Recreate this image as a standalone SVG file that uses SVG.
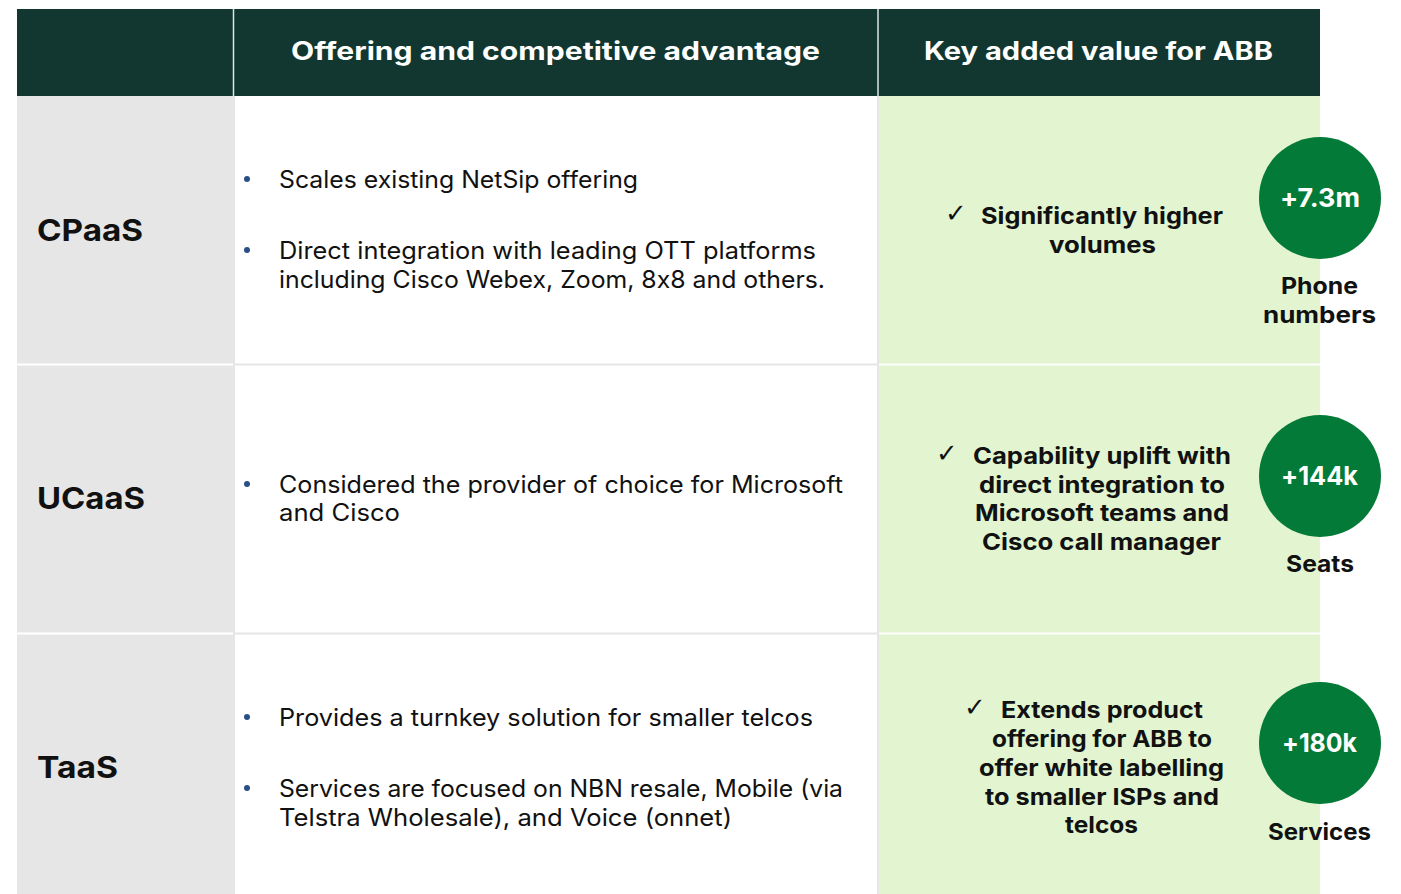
<svg xmlns="http://www.w3.org/2000/svg" width="1401" height="894" viewBox="0 0 1401 894">
<style>
text{font-feature-settings:"calt" 0;}
.hd{font-family:Inter,"Liberation Sans",sans-serif;font-weight:700;font-size:25px;fill:#ffffff;text-anchor:middle}
.rl{font-family:Inter,"Liberation Sans",sans-serif;font-weight:700;font-size:30px;fill:#111111}
.bt{font-family:Inter,"Liberation Sans",sans-serif;font-size:24px;fill:#111111}
.dot{fill:#2a4f85}
.kv{font-family:Inter,"Liberation Sans",sans-serif;font-weight:700;font-size:23px;fill:#111111;text-anchor:middle}
.ck{font-family:"DejaVu Sans",sans-serif;font-size:26px;fill:#111111}
.cn{font-family:Inter,"Liberation Sans",sans-serif;font-weight:700;font-size:26px;fill:#ffffff;text-anchor:middle}
.cl{font-family:Inter,"Liberation Sans",sans-serif;font-weight:700;font-size:23px;fill:#111111;text-anchor:middle}
.circ{fill:#037a37}
</style>
<rect width="1401" height="894" fill="#ffffff"/>
<g id="table">
<rect x="17" y="9" width="1303" height="87" fill="#113730"/>
<rect x="17" y="96" width="216" height="798" fill="#e6e6e6"/>
<rect x="879" y="96" width="441" height="798" fill="#e2f5d0"/>
<line x1="233.5" y1="9" x2="233.5" y2="96" stroke="#dfe6e3" stroke-width="1.5"/>
<line x1="878" y1="9" x2="878" y2="96" stroke="#dfe6e3" stroke-width="1.5"/>
<line x1="234" y1="96" x2="234" y2="894" stroke="#e6e6e6" stroke-width="2"/>
<line x1="878" y1="96" x2="878" y2="894" stroke="#e6e6e6" stroke-width="2"/>
<line x1="17" y1="364.5" x2="233" y2="364.5" stroke="#ffffff" stroke-width="2"/>
<line x1="235" y1="364.5" x2="877" y2="364.5" stroke="#e6e6e6" stroke-width="2"/>
<line x1="879" y1="364.5" x2="1320" y2="364.5" stroke="#ffffff" stroke-width="2"/>
<line x1="17" y1="633.5" x2="233" y2="633.5" stroke="#ffffff" stroke-width="2"/>
<line x1="235" y1="633.5" x2="877" y2="633.5" stroke="#e6e6e6" stroke-width="2"/>
<line x1="879" y1="633.5" x2="1320" y2="633.5" stroke="#ffffff" stroke-width="2"/>
</g>
<g id="header">
<text class="hd" x="555.5" y="60" textLength="529" lengthAdjust="spacingAndGlyphs">Offering and competitive advantage</text>
<text class="hd" x="1098.5" y="60" textLength="349" lengthAdjust="spacingAndGlyphs">Key added value for ABB</text>
</g>
<g id="row-cpaas">
<text class="rl" x="37" y="241" textLength="106" lengthAdjust="spacingAndGlyphs">CPaaS</text>
<circle class="dot" cx="247" cy="179" r="3"/>
<text class="bt" x="279" y="188" textLength="359" lengthAdjust="spacingAndGlyphs">Scales existing NetSip offering</text>
<circle class="dot" cx="247" cy="250" r="3"/>
<text class="bt" x="279" y="259" textLength="537" lengthAdjust="spacingAndGlyphs">Direct integration with leading OTT platforms</text>
<text class="bt" x="279" y="288" textLength="546" lengthAdjust="spacingAndGlyphs">including Cisco Webex, Zoom, 8x8 and others.</text>
<text class="ck" x="945" y="222">✓</text>
<text class="kv" x="1102" y="224" textLength="242" lengthAdjust="spacingAndGlyphs">Significantly higher</text>
<text class="kv" x="1102.5" y="253" textLength="107" lengthAdjust="spacingAndGlyphs">volumes</text>
<circle class="circ" cx="1320" cy="198" r="61"/>
<text class="cn" x="1320" y="207" textLength="80" lengthAdjust="spacingAndGlyphs">+7.3m</text>
<text class="cl" x="1319.5" y="294" textLength="77" lengthAdjust="spacingAndGlyphs">Phone</text>
<text class="cl" x="1319.5" y="323" textLength="113" lengthAdjust="spacingAndGlyphs">numbers</text>
</g>
<g id="row-ucaas">
<text class="rl" x="37" y="509" textLength="108" lengthAdjust="spacingAndGlyphs">UCaaS</text>
<circle class="dot" cx="247" cy="484" r="3"/>
<text class="bt" x="279" y="493" textLength="564" lengthAdjust="spacingAndGlyphs">Considered the provider of choice for Microsoft</text>
<text class="bt" x="279" y="521" textLength="121" lengthAdjust="spacingAndGlyphs">and Cisco</text>
<text class="ck" x="936" y="462">✓</text>
<text class="kv" x="1102" y="464" textLength="258" lengthAdjust="spacingAndGlyphs">Capability uplift with</text>
<text class="kv" x="1102" y="493" textLength="246" lengthAdjust="spacingAndGlyphs">direct integration to</text>
<text class="kv" x="1102" y="521" textLength="254" lengthAdjust="spacingAndGlyphs">Microsoft teams and</text>
<text class="kv" x="1101.5" y="550" textLength="239" lengthAdjust="spacingAndGlyphs">Cisco call manager</text>
<circle class="circ" cx="1320" cy="476" r="61"/>
<text class="cn" x="1319.5" y="485" textLength="77" lengthAdjust="spacingAndGlyphs">+144k</text>
<text class="cl" x="1320" y="572" textLength="68" lengthAdjust="spacingAndGlyphs">Seats</text>
</g>
<g id="row-taas">
<text class="rl" x="37" y="778" textLength="81" lengthAdjust="spacingAndGlyphs">TaaS</text>
<circle class="dot" cx="247" cy="717" r="3"/>
<text class="bt" x="279" y="726" textLength="534" lengthAdjust="spacingAndGlyphs">Provides a turnkey solution for smaller telcos</text>
<circle class="dot" cx="247" cy="788" r="3"/>
<text class="bt" x="279" y="797" textLength="564" lengthAdjust="spacingAndGlyphs">Services are focused on NBN resale, Mobile (via</text>
<text class="bt" x="279" y="826" textLength="453" lengthAdjust="spacingAndGlyphs">Telstra Wholesale), and Voice (onnet)</text>
<text class="ck" x="964" y="716">✓</text>
<text class="kv" x="1102" y="718" textLength="202" lengthAdjust="spacingAndGlyphs">Extends product</text>
<text class="kv" x="1102" y="747" textLength="220" lengthAdjust="spacingAndGlyphs">offering for ABB to</text>
<text class="kv" x="1101.5" y="776" textLength="245" lengthAdjust="spacingAndGlyphs">offer white labelling</text>
<text class="kv" x="1102" y="805" textLength="234" lengthAdjust="spacingAndGlyphs">to smaller ISPs and</text>
<text class="kv" x="1101.5" y="833" textLength="73" lengthAdjust="spacingAndGlyphs">telcos</text>
<circle class="circ" cx="1320" cy="743" r="61"/>
<text class="cn" x="1319.5" y="752" textLength="75" lengthAdjust="spacingAndGlyphs">+180k</text>
<text class="cl" x="1319.5" y="840" textLength="103" lengthAdjust="spacingAndGlyphs">Services</text>
</g>
</svg>
